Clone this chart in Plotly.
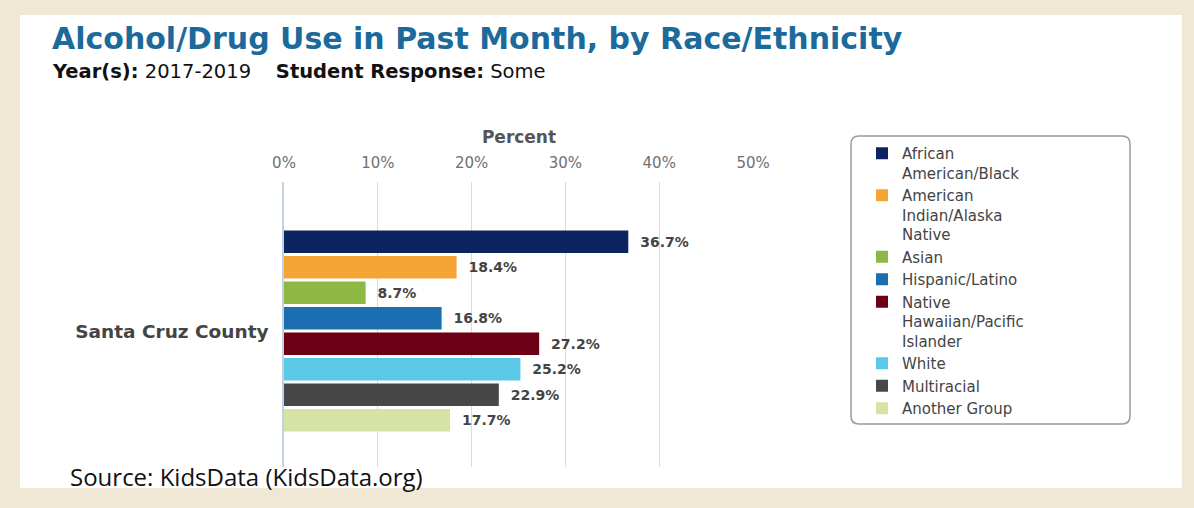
import plotly.graph_objects as go

# ---------------- data ----------------
county = ["Santa Cruz County"]
groups = [
    "African American/Black",
    "American Indian/Alaska Native",
    "Asian",
    "Hispanic/Latino",
    "Native Hawaiian/Pacific Islander",
    "White",
    "Multiracial",
    "Another Group",
]
legend_names = [
    "African<br>American/Black",
    "American<br>Indian/Alaska<br>Native",
    "Asian",
    "Hispanic/Latino",
    "Native<br>Hawaiian/Pacific<br>Islander",
    "White",
    "Multiracial",
    "Another Group",
]
values = [36.7, 18.4, 8.7, 16.8, 27.2, 25.2, 22.9, 17.7]
colors = ["#0c2461", "#f4a535", "#8cb843", "#1b6fb0",
          "#6d0016", "#5bc8e8", "#474747", "#d5e4a4"]
x_ticks = [0, 10, 20, 30, 40, 50]
x_tick_labels = ["0%", "10%", "20%", "30%", "40%", "50%"]

# ---------------- layout geometry (pixels) ----------------
W, H = 1194, 508
L, R, T, B = 284, 754, 182, 467


def px(x):
    return (x - L) / (R - L)


def py(y):
    return (B - y) / (B - T)


fig = go.Figure()
for g, lname, v, c in zip(groups, legend_names, values, colors):
    fig.add_trace(go.Bar(
        y=county, x=[v], orientation="h", name=lname,
        marker=dict(color=c, line=dict(width=0)),
        text=[f"\u00a0\u00a0<b>{v}%</b>"], textposition="outside",
        constraintext="none", cliponaxis=False, textangle=0,
        textfont=dict(family="DejaVu Sans", size=14, color="#444444"),
        hovertext=g, hoverinfo="text+x",
    ))

# rounded legend frame
lx0, lx1, ly0, ly1, r = 851, 1130, 136, 424, 8
pts = [
    ("M", lx0 + r, ly0), ("L", lx1 - r, ly0), ("Q", lx1, ly0, lx1, ly0 + r),
    ("L", lx1, ly1 - r), ("Q", lx1, ly1, lx1 - r, ly1),
    ("L", lx0 + r, ly1), ("Q", lx0, ly1, lx0, ly1 - r),
    ("L", lx0, ly0 + r), ("Q", lx0, ly0, lx0 + r, ly0),
]
path = ""
for p in pts:
    cmd = p[0]
    coords = p[1:]
    s = []
    for i in range(0, len(coords), 2):
        s.append(f"{px(coords[i]):.5f},{py(coords[i+1]):.5f}")
    path += cmd + " ".join(s) + " "
path += "Z"

shapes = [
    dict(type="rect", xref="paper", yref="paper",
         x0=px(20), x1=px(1182), y0=py(488), y1=py(15),
         fillcolor="white", line=dict(width=0), layer="below"),
    dict(type="path", xref="paper", yref="paper", path=path,
         fillcolor="white", line=dict(color="#9a9a9a", width=1.5), layer="below"),
]

annotations = [
    dict(x=px(50), y=py(38), xref="paper", yref="paper", xanchor="left", yanchor="middle",
         showarrow=False, text="<b>Alcohol/Drug Use in Past Month, by Race/Ethnicity</b>",
         font=dict(family="DejaVu Sans", size=30, color="#1b6a9b")),
    dict(x=px(50), y=py(72), xref="paper", yref="paper", xanchor="left", yanchor="middle",
         showarrow=False,
         text="<b>Year(s):</b> 2017-2019\u00a0\u00a0\u00a0\u00a0<b>Student Response:</b> Some",
         font=dict(family="DejaVu Sans", size=19.5, color="#111111")),
    dict(x=px(68), y=py(476), xref="paper", yref="paper", xanchor="left", yanchor="middle",
         showarrow=False, text="Source: KidsData (KidsData.org)",
         font=dict(family="Open Sans", size=24, color="#111111")),
]

fig.update_layout(
    width=W, height=H,
    margin=dict(l=L, r=W - R, t=T, b=H - B, autoexpand=False),
    paper_bgcolor="#f1e7d5", plot_bgcolor="white",
    barmode="group", bargap=0.284, bargroupgap=0.12,
    showlegend=True,
    legend=dict(x=px(862), y=py(137), xanchor="left", yanchor="top",
                font=dict(family="DejaVu Sans", size=15, color="#444444"),
                bgcolor="rgba(0,0,0,0)", borderwidth=0, tracegroupgap=0,
                traceorder="normal", valign="top", maxheight=400),
    xaxis=dict(side="top", range=[0, 50.1], tickvals=x_ticks, ticktext=x_tick_labels,
               showgrid=True, gridcolor="#dadada", gridwidth=1, zeroline=False,
               showline=False, ticks="outside", ticklen=7, tickcolor="rgba(0,0,0,0)",
               tickfont=dict(family="DejaVu Sans", size=15, color="#707070"),
               title=dict(text="<b>Percent</b>", standoff=6,
                          font=dict(family="DejaVu Sans", size=17, color="#555555")),
               fixedrange=True),
    yaxis=dict(type="category", range=[0.477, -0.523], tickvals=county,
               ticktext=["<b>Santa Cruz County</b>"], showgrid=False, zeroline=False,
               showline=True, linecolor="#c3d2e2", linewidth=1.5,
               ticks="outside", ticklen=10, tickcolor="rgba(0,0,0,0)",
               tickfont=dict(family="DejaVu Sans", size=18.5, color="#444444"),
               fixedrange=True),
    shapes=shapes, annotations=annotations,
)

fig.write_html("out.html", config={"displayModeBar": False},
               post_script="document.body.style.margin='0';")
